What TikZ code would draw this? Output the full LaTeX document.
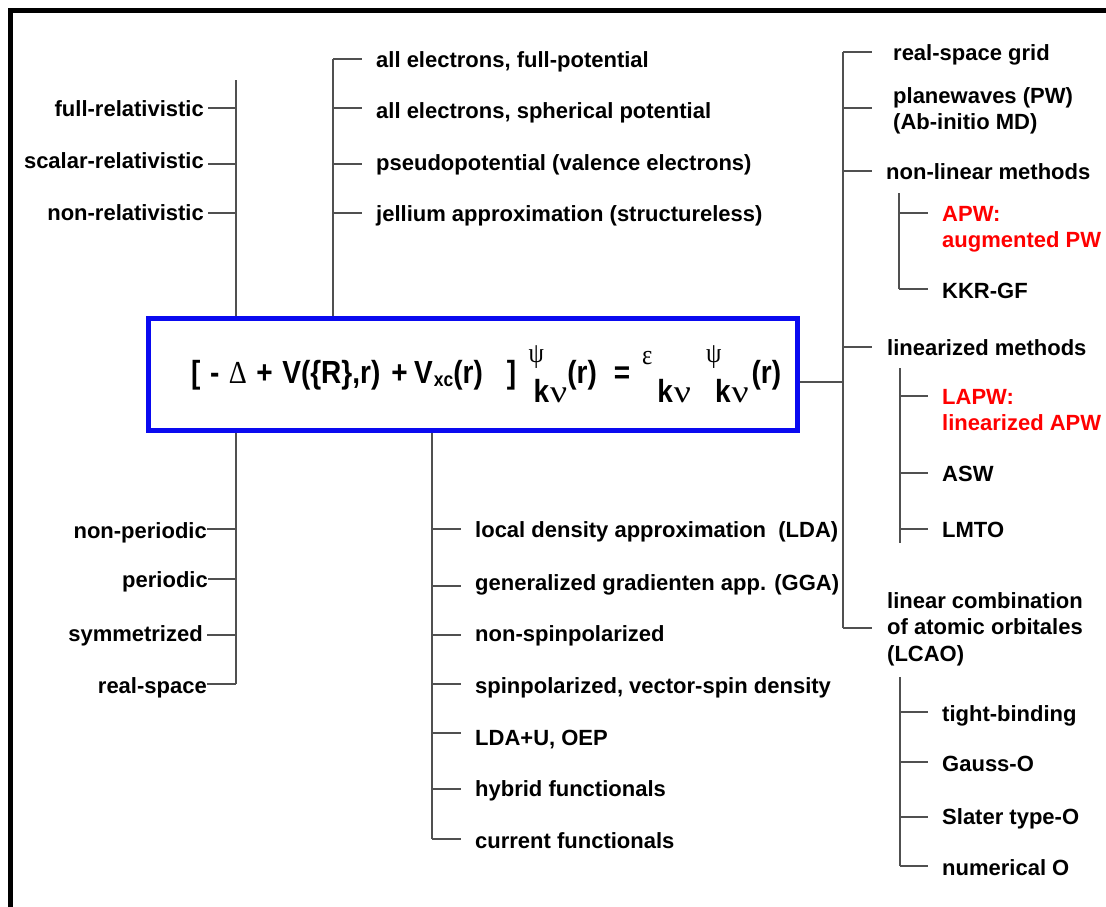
\documentclass[tikz,border=0pt]{standalone}
\usepackage{fontspec}
\setmainfont{Liberation Sans}
\newfontfamily\gk{Liberation Serif}
\definecolor{lgray}{RGB}{80,80,80}
\definecolor{eqblue}{RGB}{10,10,240}
\newcommand\mlines[1]{\begin{tabular}[t]{@{}l@{}}#1\end{tabular}}
\newcommand\gpsi{\rlap{\raisebox{21pt}{\gk\mdseries\fontsize{28}{28}\selectfont ψ}}}
\newcommand\gkn{\raisebox{-19pt}{k\hspace{1.1pt}{\gk\mdseries\scalebox{1.35}[1]{ν}}}}
\begin{document}
\begin{tikzpicture}[x=1pt,y=-1pt,
  conn/.style={draw=lgray,line width=1.3pt},
  lbl/.style={font=\fontsize{22}{26.5}\selectfont\bfseries, inner ysep=0pt, inner xsep=#1},
  lr/.style={lbl=#1, anchor=base west}, lr/.default=14pt,
  ll/.style={lbl=#1, anchor=base east}, ll/.default=4pt,
  hot/.style={text=red}
]
\useasboundingbox (0,0) rectangle (1106,906);
\fill[white] (0,0) rectangle (1106,906);
\draw[line width=5pt] (10,912) -- (10,10) -- (1112,10);

% central box and equation
\node[draw=eqblue, line width=5pt, minimum width=649pt, minimum height=112pt, inner sep=0pt] (eqbox) at (472.5,374) {};
\node[anchor=base west, inner sep=0pt, font=\fontsize{32}{34}\selectfont\bfseries] (eq) at (191,383)
 {\scalebox{0.875}[1]{{[}\hspace{10.9pt}-\hspace{10.9pt}{\gk\mdseries Δ}\hspace{10.9pt}+\hspace{10.9pt}V(\{R\},r)\hspace{12.5pt}+\hspace{7.5pt}V\raisebox{-3pt}{\fontsize{20}{20}\selectfont\hspace{1.1pt}xc}(r)\hspace{27.4pt}{]}\hspace{14.3pt}\gpsi\hspace{5.7pt}\gkn(r)\hspace{19.4pt}=\hspace{13.7pt}\raisebox{19pt}{\gk\mdseries\fontsize{28}{28}\selectfont ε}\hspace{5.7pt}\gkn\hspace{17.1pt}\gpsi\hspace{10.3pt}\gkn\hspace{3.4pt}(r)}};

% ---------- left top group
\coordinate (ltT) at (236,80);
\coordinate (lt1) at (236,108);
\coordinate (lt2) at (236,164);
\coordinate (lt3) at (236,213);
\node[ll] (fullrel) at (208,116) {full-relativistic};
\node[ll] (scalrel) at (208,168) {scalar-relativistic};
\node[ll] (nonrel) at (208,220) {non-relativistic};
\draw[conn] (ltT) -- (ltT |- eqbox.north);
\draw[conn] (fullrel.east |- lt1) -- (lt1);
\draw[conn] (scalrel.east |- lt2) -- (lt2);
\draw[conn] (nonrel.east |- lt3) -- (lt3);

% ---------- top middle group
\coordinate (tm1) at (333,59);
\coordinate (tm2) at (333,108);
\coordinate (tm3) at (333,164);
\coordinate (tm4) at (333,213);
\node[lr] (aefp) at (362,67) {all electrons, full-potential};
\node[lr] (aesp) at (362,118) {all electrons, spherical potential};
\node[lr] (pseudo) at (362,170) {pseudopotential (valence electrons)};
\node[lr] (jell) at (362,221) {jellium approximation (structureless)};
\draw[conn] (tm1) -- (tm1 |- eqbox.north);
\draw[conn] (tm1) -- (aefp.west |- tm1);
\draw[conn] (tm2) -- (aesp.west |- tm2);
\draw[conn] (tm3) -- (pseudo.west |- tm3);
\draw[conn] (tm4) -- (jell.west |- tm4);

% ---------- right main group
\coordinate (rm1) at (843,52);
\coordinate (rm2) at (843,108);
\coordinate (rm3) at (843,171);
\coordinate (rm4) at (843,347);
\coordinate (rmC) at (843,382);
\coordinate (rm5) at (843,628);
\node[lr=21pt] (rsg) at (872,60) {real-space grid};
\node[lr=21pt] (pw) at (872,103) {\mlines{planewaves (PW)\\(Ab-initio MD)}};
\node[lr] (nonlin) at (872,179) {non-linear methods};
\node[lr=15pt] (linz) at (872,355) {linearized methods};
\node[lr=15pt] (lcao) at (872,608) {\mlines{linear combination\\of atomic orbitales\\(LCAO)}};
\draw[conn] (rm1) -- (rm5);
\draw[conn] (rmC -| eqbox.east) -- (rmC);
\draw[conn] (rm1) -- (rsg.west |- rm1);
\draw[conn] (rm2) -- (pw.west |- rm2);
\draw[conn] (rm3) -- (nonlin.west |- rm3);
\draw[conn] (rm4) -- (linz.west |- rm4);
\draw[conn] (rm5) -- (lcao.west |- rm5);

% non-linear sub group
\coordinate (nlT) at (899,193);
\coordinate (nl1) at (899,213);
\coordinate (nl2) at (899,289);
\node[lr, hot] (apw) at (928,221) {\mlines{APW:\\augmented PW}};
\node[lr] (kkr) at (928,298) {KKR-GF};
\draw[conn] (nlT) -- (nl2);
\draw[conn] (nl1) -- (apw.west |- nl1);
\draw[conn] (nl2) -- (kkr.west |- nl2);

% linearized sub group
\coordinate (lzT) at (900,368);
\coordinate (lz1) at (900,396);
\coordinate (lz2) at (900,473);
\coordinate (lz3) at (900,529);
\coordinate (lzB) at (900,543);
\node[lr, hot] (lapw) at (928,404) {\mlines{LAPW:\\linearized APW}};
\node[lr] (asw) at (928,481) {ASW};
\node[lr] (lmto) at (928,537) {LMTO};
\draw[conn] (lzT) -- (lzB);
\draw[conn] (lz1) -- (lapw.west |- lz1);
\draw[conn] (lz2) -- (asw.west |- lz2);
\draw[conn] (lz3) -- (lmto.west |- lz3);

% LCAO sub group
\coordinate (lcT) at (900,677);
\coordinate (lc1) at (900,712);
\coordinate (lc2) at (900,762);
\coordinate (lc3) at (900,817);
\coordinate (lc4) at (900,866);
\node[lr] (tb) at (928,721) {tight-binding};
\node[lr] (gauss) at (928,771) {Gauss-O};
\node[lr] (slater) at (928,824) {Slater type-O};
\node[lr] (numo) at (928,875) {numerical O};
\draw[conn] (lcT) -- (lc4);
\draw[conn] (lc1) -- (tb.west |- lc1);
\draw[conn] (lc2) -- (gauss.west |- lc2);
\draw[conn] (lc3) -- (slater.west |- lc3);
\draw[conn] (lc4) -- (numo.west |- lc4);

% ---------- bottom left group
\coordinate (bl1) at (236,529);
\coordinate (bl2) at (236,579);
\coordinate (bl3) at (236,635);
\coordinate (bl4) at (236,684);
\node[ll=0pt] (nonper) at (207,538) {non-periodic};
\node[ll=0pt] (per) at (208,587) {periodic};
\node[ll=4pt] (sym) at (207,641) {symmetrized};
\node[ll=0pt] (rs) at (207,693) {real-space};
\draw[conn] (bl4 |- eqbox.south) -- (bl4);
\draw[conn] (nonper.east |- bl1) -- (bl1);
\draw[conn] (per.east |- bl2) -- (bl2);
\draw[conn] (sym.east |- bl3) -- (bl3);
\draw[conn] (rs.east |- bl4) -- (bl4);

% ---------- bottom middle group
\coordinate (bm1) at (432,529);
\coordinate (bm2) at (432,586);
\coordinate (bm3) at (432,635);
\coordinate (bm4) at (432,684);
\coordinate (bm5) at (432,733);
\coordinate (bm6) at (432,789);
\coordinate (bm7) at (432,839);
\node[lr] (lda) at (461,537) {local density approximation\ \ (LDA)};
\node[lr] (gga) at (461,590) {generalized gradienten app. (GGA)};
\node[lr] (nsp) at (461,641) {non-spinpolarized};
\node[lr] (sp) at (461,693) {spinpolarized, vector-spin density};
\node[lr] (ldau) at (461,745) {LDA+U, OEP};
\node[lr] (hyb) at (461,796) {hybrid functionals};
\node[lr] (cur) at (461,848) {current functionals};
\draw[conn] (bm7 |- eqbox.south) -- (bm7);
\draw[conn] (bm1) -- (lda.west |- bm1);
\draw[conn] (bm2) -- (gga.west |- bm2);
\draw[conn] (bm3) -- (nsp.west |- bm3);
\draw[conn] (bm4) -- (sp.west |- bm4);
\draw[conn] (bm5) -- (ldau.west |- bm5);
\draw[conn] (bm6) -- (hyb.west |- bm6);
\draw[conn] (bm7) -- (cur.west |- bm7);
\end{tikzpicture}
\end{document}
